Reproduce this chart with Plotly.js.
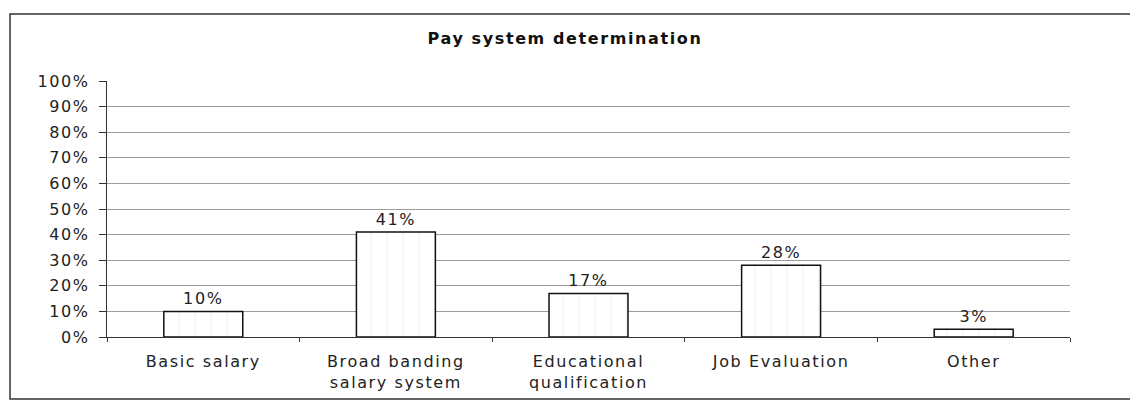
<!DOCTYPE html>
<html><head><meta charset="utf-8">
<script src="https://cdn.plot.ly/plotly-3.0.1.min.js"></script>
<style>html,body{margin:0;padding:0;background:#fff;}#chart{width:1130px;height:400px;}
#chart svg text{letter-spacing:1.6px;}</style>
</head><body><div id="chart"></div>
<script>
var categories = ["Basic salary", "Broad banding<br>salary system", "Educational<br>qualification", "Job Evaluation", "Other"];
var values = [10, 41, 17, 28, 3];
var valueLabels = ["10%", "41%", "17%", "28%", "3%"];
var yTickVals = [0,10,20,30,40,50,60,70,80,90,100];
var yTickText = ["0%","10%","20%","30%","40%","50%","60%","70%","80%","90%","100%"];

var FONT = "DejaVu Sans, Verdana, sans-serif";
var trace = {
  type: "bar", x: categories, y: values, text: valueLabels,
  textposition: "outside", cliponaxis: false,
  textfont: {family: FONT, size: 16, color: "#222"},
  width: 0.41,
  marker: {color: "#ffffff", line: {color: "#111", width: 1.5},
           pattern: {shape: "|", fgcolor: "#ececec", bgcolor: "#ffffff", size: 16, solidity: 0.06}},
  hoverinfo: "none"
};
var layout = {
  width: 1130, height: 400,
  margin: {l: 107, r: 60, t: 81, b: 63},
  paper_bgcolor: "#fff", plot_bgcolor: "#fff",
  showlegend: false,
  title: {text: "<b>Pay system determination</b>", x: 0.5, xanchor: "center", y: 0.905, yanchor: "middle",
          font: {family: FONT, size: 16, color: "#111"}},
  font: {family: FONT, size: 16, color: "#222"},
  xaxis: {showgrid: false, showline: true, linecolor: "#333", linewidth: 1.2,
          ticks: "outside", tickson: "boundaries", ticklen: 4, tickcolor: "#333",
          ticklabelstandoff: 10,
          tickfont: {family: FONT, size: 16, color: "#222"}, automargin: false},
  yaxis: {range: [0, 100], tickvals: yTickVals, ticktext: yTickText,
          showgrid: true, gridcolor: "#9c9c9c", gridwidth: 1,
          showline: true, linecolor: "#333", linewidth: 1.2, zeroline: false,
          ticks: "outside", ticklen: 7, tickcolor: "#333",
          ticklabelstandoff: 6,
          tickfont: {family: FONT, size: 16, color: "#222"}, automargin: false},
  shapes: [{type: "rect", xref: "paper", yref: "paper",
            x0: -0.1007, x1: 1.064, y0: -0.242, y1: 1.262,
            line: {color: "#333", width: 1.5}, fillcolor: "rgba(0,0,0,0)"}]
};
Plotly.newPlot("chart", [trace], layout, {displayModeBar: false, staticPlot: true});
</script></body></html>
